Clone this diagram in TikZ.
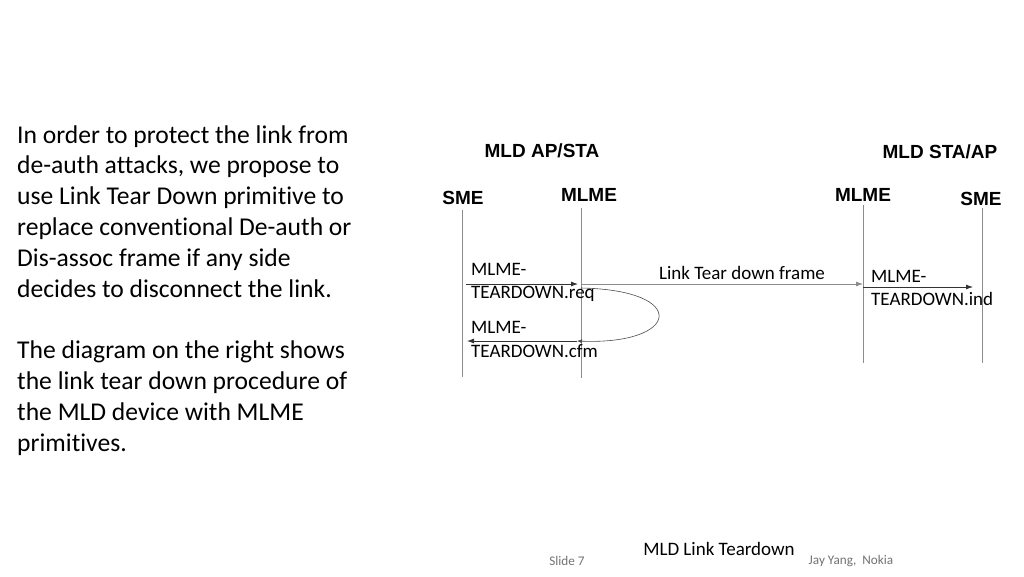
\documentclass[tikz,border=0pt]{standalone}
\usepackage{fontspec}
\setmainfont{Carlito}[Ligatures=NoCommon]
\newfontfamily\arialf{Liberation Sans}
\usetikzlibrary{arrows.meta}
\begin{document}
\begin{tikzpicture}[x=1pt,y=-1pt,
  life/.style={draw=black!45,line width=0.8pt},
  msg/.style={draw=black!80,line width=0.8pt,-{Latex[length=7pt,width=5pt]}},
  gmsg/.style={draw=black!45,line width=0.8pt,-{Latex[length=7pt,width=5pt]}},
  ent/.style={font=\arialf\bfseries\fontsize{19}{21}\selectfont,inner sep=0pt},
  prim/.style={font=\fontsize{19}{22}\selectfont,anchor=base west,inner sep=0pt},
  body/.style={font=\fontsize{25.6}{30.8}\selectfont,anchor=base west,inner sep=0pt},
  foot/.style={font=\fontsize{13.2}{15}\selectfont,text=black!55,inner sep=0pt}]
\useasboundingbox (0,0) rectangle (1024,576);
\fill[white] (0,0) rectangle (1024,576);
% left text
\node[body] (l1) at (17,143) {In order to protect the link from};
\node[body] (l2) at (17,173.8) {de-auth attacks, we propose to};
\node[body] (l3) at (17,204.6) {use Link Tear Down primitive to};
\node[body] (l4) at (17,235.4) {replace conventional De-auth or};
\node[body] (l5) at (17,266.2) {Dis-assoc frame if any side};
\node[body] (l6) at (17,297) {decides to disconnect the link.};
\node[body] (l7) at (17,358.6) {The diagram on the right shows};
\node[body] (l8) at (17,389.4) {the link tear down procedure of};
\node[body] (l9) at (17,420.2) {the MLD device with MLME};
\node[body] (l10) at (17,451) {primitives.};
% headers
\node[ent] (apsta) at (542,151) {MLD AP/STA};
\node[ent] (staap) at (940,152) {MLD STA/AP};
\node[ent] (sme1) at (463,198) {SME};
\node[ent] (mlme1) at (589,195) {MLME};
\node[ent] (mlme2) at (863,195) {MLME};
\node[ent] (sme2) at (981,199) {SME};
% lifelines
\coordinate (s1t) at (462,210); \coordinate (s1b) at (462,377);
\coordinate (m1t) at (581,208); \coordinate (m1b) at (581,378);
\coordinate (m2t) at (863,205); \coordinate (m2b) at (863,363);
\coordinate (s2t) at (982,208); \coordinate (s2b) at (982,363);
\draw[life] (s1t) -- (s1b);
\draw[life] (m1t) -- (m1b);
\draw[life] (m2t) -- (m2b);
\draw[life] (s2t) -- (s2b);
% messages
\coordinate (reqa) at (466,284); \coordinate (reqb) at (578,284);
\coordinate (lfa) at (581,284); \coordinate (lfb) at (863,284);
\coordinate (inda) at (863,287); \coordinate (indb) at (973,287);
\coordinate (cfma) at (577,341); \coordinate (cfmb) at (467,341);
\coordinate (ea) at (581,288);
\draw[msg] (reqa) -- (reqb);
\draw[gmsg] (lfa) -- (lfb);
\draw[msg] (inda) -- (indb);
\draw[msg] (cfma) -- (cfmb);
\draw[draw=black!70,line width=0.6pt,-{Latex[length=5pt,width=4pt]}] (ea) .. controls (690,290) and (680,345) .. (cfma);
\node[font=\fontsize{19}{21}\selectfont,inner sep=0pt] (lfl) at (742,273) {Link Tear down frame};
\node[prim] (req1) at (471,275) {MLME-};
\node[prim] (req2) at (471,298) {TEARDOWN.req};
\node[prim] (cfm1) at (471,333) {MLME-};
\node[prim] (cfm2) at (471,357) {TEARDOWN.cfm};
\node[prim] (ind1) at (871,282) {MLME-};
\node[prim] (ind2) at (871,305) {TEARDOWN.ind};
% footer
\node[font=\fontsize{19}{21}\selectfont,inner sep=0pt] (title) at (719,549) {MLD Link Teardown};
\node[foot] (slide) at (567,561) {Slide 7};
\node[foot] (auth) at (851,561) {Jay Yang,\ \ Nokia};
\end{tikzpicture}
\end{document}
